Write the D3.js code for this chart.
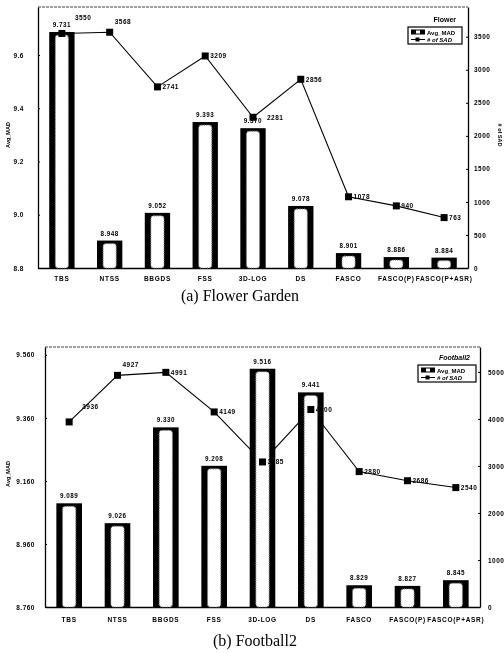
<!DOCTYPE html>
<html>
<head>
<meta charset="utf-8">
<script src="https://cdn.jsdelivr.net/npm/d3@7"></script>
<style>
  body { margin: 0; background: #fff; }
  svg { will-change: transform; }
  svg text { font-family: "Liberation Sans", Arial, sans-serif; font-weight: bold; fill: #000; }
  .tick text { font-size: 6.5px; letter-spacing: 0.5px; }
  .caption { font-family: "Liberation Serif", "Times New Roman", serif !important; font-weight: normal !important; font-size: 16px; }
</style>
</head>
<body>
<svg id="chart" width="504" height="653"></svg>
<script>
// data
let categories = ["TBS", "NTSS", "BBGDS", "FSS", "3D-LOG", "DS", "FASCO", "FASCO(P)", "FASCO(P+ASR)"];

let flowerMad = [9.731, 8.948, 9.052, 9.393, 9.370, 9.078, 8.901, 8.886, 8.884];
let flowerSad = [3550, 3568, 2741, 3209, 2281, 2856, 1078, 940, 763];
// the printed left ticks are these values rounded to one decimal
let flowerMadTicks = [8.845, 9.045, 9.245, 9.445, 9.645];
let flowerSadTicks = [0, 500, 1000, 1500, 2000, 2500, 3000, 3500];

let footballMad = [9.089, 9.026, 9.330, 9.208, 9.516, 9.441, 8.829, 8.827, 8.845];
let footballSad = [3936, 4927, 4991, 4149, 3085, 4200, 2880, 2686, 2540];
let footballMadTicks = [8.76, 8.96, 9.16, 9.36, 9.56];
let footballSadTicks = [0, 1000, 2000, 3000, 4000, 5000];

let svg = d3.select("#chart");

let drawPanel = function (cfg) {
    let g = svg.append("g");
    let x = d3.scaleBand()
        .domain(categories)
        .range([cfg.left, cfg.right])
        .paddingInner(0.47)
        .paddingOuter(0.235);
    let y = d3.scaleLinear().domain(cfg.madDomain).range([cfg.bottom, cfg.top]);
    let y2 = d3.scaleLinear().domain(cfg.sadDomain).range([cfg.bottom, cfg.top]);

    // frame
    g.append("line")
        .attr("x1", cfg.left).attr("x2", cfg.right)
        .attr("y1", cfg.top).attr("y2", cfg.top)
        .style("stroke", "#444").style("stroke-width", 1).style("stroke-dasharray", "3,1");

    // axes
    let leftAxis = g.append("g")
        .attr("transform", "translate(" + cfg.left + ",0)")
        .call(d3.axisLeft(y).tickValues(cfg.madTicks).tickFormat(d3.format(cfg.madFormat))
            .tickSizeInner(-2).tickSizeOuter(0).tickPadding(cfg.leftPad));
    let rightAxis = g.append("g")
        .attr("transform", "translate(" + cfg.right + ",0)")
        .call(d3.axisRight(y2).tickValues(cfg.sadTicks).tickFormat(d3.format("d"))
            .tickSizeInner(-2).tickSizeOuter(0).tickPadding(cfg.rightPad));
    let bottomAxis = g.append("g")
        .attr("transform", "translate(0," + cfg.bottom + ")")
        .call(d3.axisBottom(x).tickSize(0).tickPadding(cfg.catPad));
    [leftAxis, rightAxis, bottomAxis].forEach(function (a) {
        a.select(".domain").style("stroke", "#000").style("stroke-width", 1.3);
        a.selectAll(".tick line").style("stroke", "#000");
        a.selectAll(".tick text").style("font-family", "Liberation Sans, Arial, sans-serif");
    });
    bottomAxis.selectAll(".tick text").style("font-size", "6.5px").style("letter-spacing", "0.7px");

    // line of # of SAD (drawn under the bars)
    let line = d3.line()
        .x(function (d, i) { return x(categories[i]) + x.bandwidth() / 2; })
        .y(function (d) { return y2(d); });
    g.append("path")
        .datum(cfg.sad)
        .attr("d", line)
        .style("fill", "none")
        .style("stroke", "#000")
        .style("stroke-width", 1.1);

    // bars
    let bars = g.selectAll(".bar")
        .data(cfg.mad)
        .enter()
        .append("g");
    bars.append("rect")
        .attr("x", function (d, i) { return x(categories[i]); })
        .attr("y", function (d) { return y(d); })
        .attr("width", x.bandwidth())
        .attr("height", function (d) { return cfg.bottom - y(d); })
        .style("fill", "#000");
    bars.append("rect")
        .attr("x", function (d, i) { return x(categories[i]) + x.bandwidth() * 0.24; })
        .attr("y", function (d) { return y(d) + 3; })
        .attr("rx", 3)
        .attr("width", x.bandwidth() * 0.52)
        .attr("height", function (d) { return Math.max(0, cfg.bottom - y(d) - 3); })
        .style("fill", "#fff")
        .style("stroke", "#777")
        .style("stroke-width", 1.2)
        .style("stroke-dasharray", "1,1.3");
    bars.append("text")
        .attr("x", function (d, i) { return x(categories[i]) + x.bandwidth() / 2; })
        .attr("y", function (d) { return y(d) - 5; })
        .attr("text-anchor", "middle")
        .style("font-size", "6.3px")
        .style("letter-spacing", "0.5px")
        .text(function (d) { return d3.format(".3f")(d); });

    // markers and SAD labels
    g.selectAll(".mk")
        .data(cfg.sad)
        .enter()
        .append("rect")
        .attr("x", function (d, i) { return x(categories[i]) + x.bandwidth() / 2 - 3.5; })
        .attr("y", function (d) { return y2(d) - 3.5; })
        .attr("width", 7)
        .attr("height", 7)
        .style("fill", "#000");
    g.selectAll(".sadlab")
        .data(cfg.sad)
        .enter()
        .append("text")
        .attr("x", function (d, i) {
            let cx = x(categories[i]) + x.bandwidth() / 2;
            if (i === 0) return cx + 13;
            // push aside when it would sit on the bar's value label
            let clash = Math.abs((y2(d) + 2.5) - (y(cfg.mad[i]) - 5)) < 7;
            return clash ? cx + 14 : cx + 5;
        })
        .attr("y", function (d, i) {
            let cy = y2(d);
            return i === 0 ? cy - 13 : (i === 1 ? cy - 8 : cy + 2.5);
        })
        .style("font-size", "6.5px")
        .style("letter-spacing", "0.5px")
        .text(function (d) { return d; });

    // axis titles
    g.append("text")
        .attr("transform", "translate(" + 10 + "," + cfg.titleY + ") rotate(-90)")
        .attr("text-anchor", "middle")
        .style("font-size", "5.5px")
        .text("Avg_MAD");
    if (cfg.rightTitle) {
        g.append("text")
            .attr("transform", "translate(" + (cfg.right + 30) + "," + cfg.titleY + ") rotate(90)")
            .attr("text-anchor", "middle")
            .style("font-size", "5.5px")
            .text("# of SAD");
    }

    // legend
    let lg = g.append("g").attr("transform", "translate(" + cfg.legendX + "," + cfg.legendY + ")");
    lg.append("text")
        .attr("x", cfg.legendW - 6).attr("y", -5)
        .attr("text-anchor", "end")
        .style("font-size", "7px")
        .style("font-style", cfg.legendItalic ? "italic" : "normal")
        .text(cfg.legendTitle);
    lg.append("rect")
        .attr("width", cfg.legendW).attr("height", 17)
        .style("fill", "#fff").style("stroke", "#000").style("stroke-width", 1.2);
    lg.append("rect").attr("x", 3).attr("y", 2.5).attr("width", 14).attr("height", 5).style("fill", "#000");
    lg.append("rect").attr("x", 8).attr("y", 3.5).attr("width", 4).attr("height", 3).style("fill", "#fff");
    lg.append("text").attr("x", 19).attr("y", 7.5).style("font-size", "6px").text("Avg_MAD");
    lg.append("line").attr("x1", 3).attr("x2", 17).attr("y1", 12.5).attr("y2", 12.5).style("stroke", "#000");
    lg.append("rect").attr("x", 7.5).attr("y", 10.5).attr("width", 4).attr("height", 4).style("fill", "#000");
    lg.append("text").attr("x", 19).attr("y", 15).style("font-size", "6px").style("font-style", "italic").text("# of SAD");

    // caption
    g.append("text")
        .attr("class", "caption")
        .attr("x", cfg.captionX)
        .attr("y", cfg.captionY)
        .attr("text-anchor", "middle")
        .style("font-size", "16px")
        .text(cfg.caption);
};

drawPanel({
    left: 38, right: 468, top: 7, bottom: 268,
    madDomain: [8.845, 9.825], sadDomain: [0, 3950],
    madTicks: flowerMadTicks, sadTicks: flowerSadTicks, madFormat: ".1f",
    leftPad: 14, rightPad: 6, catPad: 8,
    mad: flowerMad, sad: flowerSad,
    titleY: 135, rightTitle: true,
    legendTitle: "Flower", legendItalic: false, legendX: 408, legendY: 27, legendW: 54,
    caption: "(a)  Flower Garden", captionX: 240, captionY: 301
});

// the right-hand title of this panel falls outside the picture
drawPanel({
    left: 45, right: 480, top: 347, bottom: 607,
    madDomain: [8.76, 9.585], sadDomain: [0, 5530],
    madTicks: footballMadTicks, sadTicks: footballSadTicks, madFormat: ".3f",
    leftPad: 10, rightPad: 8, catPad: 10,
    mad: footballMad, sad: footballSad,
    titleY: 474, rightTitle: false,
    legendTitle: "Football2", legendItalic: true, legendX: 418, legendY: 365, legendW: 58,
    caption: "(b)  Football2", captionX: 255, captionY: 646
});
</script>
</body>
</html>
